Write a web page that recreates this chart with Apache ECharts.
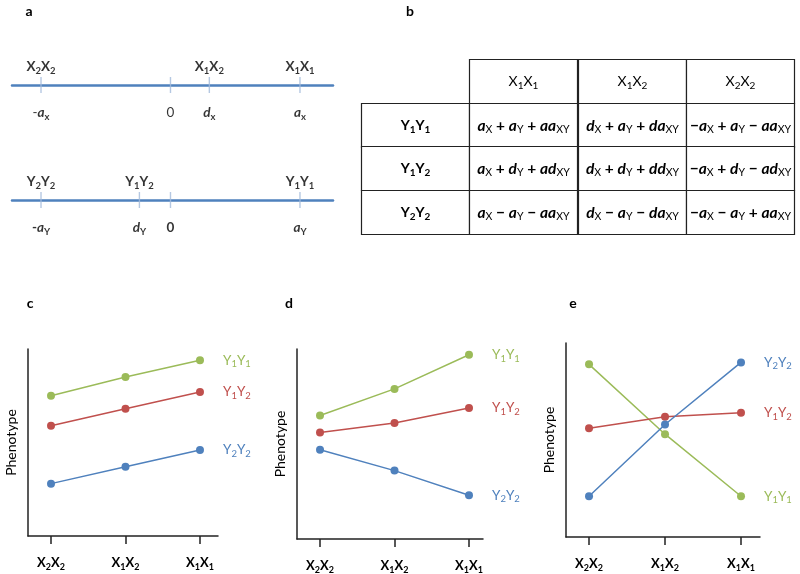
<!DOCTYPE html>
<html><head><meta charset="utf-8">
<script src="https://cdn.jsdelivr.net/npm/echarts@6/dist/echarts.min.js"></script>
<style>html,body{margin:0;padding:0;background:#fff}#chart{width:800px;height:574px}</style>
</head><body><div id="chart"></div>
<script>
// ---------- data ----------
// panel a: positions of genotypes on the effect lines
const lineXPositions = [-1, 0, 0.3, 1];
const lineXTop = ['X_2X_2', '', 'X_1X_2', 'X_1X_1'];
const lineXBottom = ['-a_x', '0', 'd_x', 'a_x'];
const lineYPositions = [-1, -0.24, 0, 1];
const lineYTop = ['Y_2Y_2', 'Y_1Y_2', '', 'Y_1Y_1'];
const lineYBottom = ['-a_Y', 'd_Y', '0', 'a_Y'];
// panel b: table
const tableColHeaders = ['X_1X_1', 'X_1X_2', 'X_2X_2'];
const tableRowHeaders = ['Y_1Y_1', 'Y_1Y_2', 'Y_2Y_2'];
const tableRow1 = ['a_X + a_Y + aa_XY', 'd_X + a_Y + da_XY', '\u2212a_X + a_Y \u2212 aa_XY'];
const tableRow2 = ['a_X + d_Y + ad_XY', 'd_X + d_Y + dd_XY', '\u2212a_X + d_Y \u2212 ad_XY'];
const tableRow3 = ['a_X \u2212 a_Y \u2212 aa_XY', 'd_X \u2212 a_Y \u2212 da_XY', '\u2212a_X \u2212 a_Y + aa_XY'];
// panels c, d, e
const genotypeCategories = ['X_2X_2', 'X_1X_2', 'X_1X_1'];
const seriesNames = ['Y_1Y_1', 'Y_1Y_2', 'Y_2Y_2'];
const cY1Y1 = [7.5, 8.5, 9.4];
const cY1Y2 = [5.9, 6.8, 7.7];
const cY2Y2 = [2.8, 3.7, 4.6];
const dY1Y1 = [6.5, 7.9, 9.7];
const dY1Y2 = [5.6, 6.1, 6.9];
const dY2Y2 = [4.7, 3.6, 2.3];
const eY1Y1 = [8.9, 5.3, 2.1];
const eY1Y2 = [5.6, 6.2, 6.4];
const eY2Y2 = [2.1, 5.8, 9.0];

// ---------- helpers ----------
const FONT = 'Lato';
const INK = '#000';
const COLORS = ['#9bbb59', '#c0504d', '#4f81bd'];

function toRich(str, st) {
  st = Object.assign({plain: 'm', upper: 'm', ital: 'i', sub: 's'}, st || {});
  const re = /([A-Za-z]+)_([0-9]+|[A-Z]+|[a-z]+)/g;
  let out = '', last = 0, m;
  while ((m = re.exec(str))) {
    if (m.index > last) out += '{' + st.plain + '|' + str.slice(last, m.index) + '}';
    const b = m[1];
    out += '{' + (/^[a-z]+$/.test(b) ? st.ital : st.upper) + '|' + b + '}{' + st.sub + '|' + m[2] + '}';
    last = re.lastIndex;
  }
  if (last < str.length) out += '{' + st.plain + '|' + str.slice(last) + '}';
  return out;
}

function richSet(color, size, weight, subSize, key, lh) {
  const c = {};
  c[key] = color;
  return {
    m: Object.assign({fontFamily: FONT, fontSize: size, fontWeight: weight, lineHeight: lh}, c),
    n: Object.assign({fontFamily: FONT, fontSize: size, fontWeight: 'normal', lineHeight: lh}, c),
    i: Object.assign({fontFamily: FONT, fontSize: size, fontWeight: 'bold', fontStyle: 'italic', lineHeight: lh}, c),
    s: Object.assign({fontFamily: FONT, fontSize: subSize, fontWeight: weight, lineHeight: 6, verticalAlign: 'bottom'}, c),
    sn: Object.assign({fontFamily: FONT, fontSize: subSize, fontWeight: 'normal', lineHeight: 6, verticalAlign: 'bottom'}, c)
  };
}
const richA = richSet(INK, 13.5, 'bold', 9.5, 'color', 18);
const richTable = richSet(INK, 15.5, 'bold', 10.5, 'fill', 20);
const richTableHead = richSet(INK, 14, 'bold', 10, 'fill', 19);

// ---------- panel a ----------
function lineGroup(idx, pos, top, bottom, plainBottom) {
  return [
    {
      type: 'scatter', xAxisIndex: idx, yAxisIndex: idx, silent: true, z: 3,
      data: pos.map(v => [v, 0]),
      symbol: 'rect', symbolSize: [1.4, 16],
      itemStyle: {color: '#a3badb'},
      label: {show: true, position: 'top', distance: 1, rich: richA,
        formatter: p => toRich(top[p.dataIndex])}
    },
    {
      type: 'scatter', xAxisIndex: idx, yAxisIndex: idx, silent: true,
      data: pos.map(v => [v, 0]),
      symbol: 'rect', symbolSize: [1.4, 16],
      itemStyle: {color: 'rgba(0,0,0,0)'},
      label: {show: true, position: 'bottom', distance: 11, rich: richA,
        formatter: p => toRich(bottom[p.dataIndex], {plain: plainBottom, sub: 's'})}
    }
  ];
}

// ---------- panel b ----------
const tableRows = [tableRow1, tableRow2, tableRow3];
const cellList = [];
for (let r = 0; r < 4; r++) {
  for (let c = 0; c < 4; c++) {
    if (r === 0 && c === 0) continue;
    let text;
    if (r === 0) text = toRich(tableColHeaders[c - 1], {plain: 'n', upper: 'n', sub: 'sn'});
    else if (c === 0) text = toRich(tableRowHeaders[r - 1], {upper: 'm', sub: 's'});
    else text = toRich(tableRows[r - 1][c - 1], {plain: 'm', ital: 'i', sub: 'sn'});
    cellList.push({c: c, r: r, text: text, head: r === 0 || c === 0});
  }
}

// ---------- panels c, d, e ----------
function panelSeries(idx, arrays) {
  return arrays.map((vals, k) => ({
    type: 'line', xAxisIndex: idx, yAxisIndex: idx, silent: true,
    data: vals.map((v, i) => [i, v]),
    symbol: 'circle', symbolSize: 8, showSymbol: true,
    itemStyle: {color: COLORS[k]},
    lineStyle: {color: COLORS[k], width: 1.5},
    label: {show: true, position: 'right', distance: 19,
      rich: richSet(COLORS[k], 13.5, 'normal', 9.5, 'color', 18),
      formatter: p => p.dataIndex === vals.length - 1 ? toRich(seriesNames[k], {plain: 'm', upper: 'm', sub: 's'}) : ''}
  }));
}

function panelAxes(idx, min, max) {
  const x = {
    gridIndex: idx, type: 'value', min: min, max: max,
    axisLine: {show: true, onZero: false, lineStyle: {color: '#222', width: 1.5}},
    axisTick: {show: true, customValues: [0, 1, 2], length: 8, lineStyle: {color: '#222', width: 1.5}},
    axisLabel: {show: true, customValues: [0, 1, 2], margin: 18, rich: richSet(INK, 13, 'bold', 9, 'color', 18),
      formatter: v => toRich(genotypeCategories[Math.round(v)] || '')},
    splitLine: {show: false}
  };
  const y = {
    gridIndex: idx, type: 'value', min: 0, max: 10,
    name: 'Phenotype', nameLocation: 'middle', nameGap: 10,
    nameTextStyle: {fontFamily: FONT, fontSize: 14, color: INK},
    axisLine: {show: true, onZero: false, lineStyle: {color: '#222', width: 1.5}},
    axisTick: {show: false}, axisLabel: {show: false}, splitLine: {show: false}
  };
  return [x, y];
}
const axC = panelAxes(3, -0.309, 2.242);
const axD = panelAxes(4, -0.309, 2.188);
const axE = panelAxes(5, -0.303, 2.25);

const chart = echarts.init(document.getElementById('chart'));
const option = {
  animation: false,
  backgroundColor: '#fff',
  grid: [
    {left: 12, width: 321, top: 77, height: 16, outerBoundsMode: 'none'},
    {left: 12, width: 321, top: 192, height: 16, outerBoundsMode: 'none'},
    {left: 361, width: 433, top: 59, height: 174, outerBoundsMode: 'none'},
    {left: 28, width: 190, top: 349, height: 187, outerBoundsMode: 'none'},
    {left: 297, width: 186, top: 349, height: 190, outerBoundsMode: 'none'},
    {left: 566, width: 194, top: 343, height: 194, outerBoundsMode: 'none'}
  ],
  xAxis: [
    {gridIndex: 0, type: 'value', min: -1.224, max: 1.255,
      axisLine: {show: true, onZero: true, lineStyle: {color: '#4f81bd', width: 2.5}},
      axisTick: {show: false}, axisLabel: {show: false}, splitLine: {show: false}},
    {gridIndex: 1, type: 'value', min: -1.224, max: 1.255,
      axisLine: {show: true, onZero: true, lineStyle: {color: '#4f81bd', width: 2.5}},
      axisTick: {show: false}, axisLabel: {show: false}, splitLine: {show: false}},
    {gridIndex: 2, type: 'value', min: 0, max: 4, show: false},
    axC[0], axD[0], axE[0]
  ],
  yAxis: [
    {gridIndex: 0, type: 'value', min: -1, max: 1, show: false},
    {gridIndex: 1, type: 'value', min: -1, max: 1, show: false},
    {gridIndex: 2, type: 'value', min: 0, max: 4, inverse: true, show: false},
    axC[1], axD[1], axE[1]
  ],
  graphic: [
    ['a', 29, 11], ['b', 410, 11], ['c', 30, 303], ['d', 289, 303], ['e', 573, 303]
  ].map(t => ({type: 'text', x: t[1], y: t[2], silent: true,
    style: {text: t[0], align: 'center', verticalAlign: 'middle', font: 'bold 14px ' + FONT, fill: INK}})),
  series: [].concat(
    lineGroup(0, lineXPositions, lineXTop, lineXBottom, 'n'),
    lineGroup(1, lineYPositions, lineYTop, lineYBottom, 'm'),
    [{
      type: 'custom', xAxisIndex: 2, yAxisIndex: 2, silent: true,
      data: cellList.map(o => [o.c, o.r]),
      renderItem: function (params, api) {
        const o = cellList[params.dataIndex];
        const p0 = api.coord([o.c, o.r]);
        const p1 = api.coord([o.c + 1, o.r + 1]);
        const x0 = Math.round(Math.min(p0[0], p1[0])) + 0.5;
        const y0 = Math.round(Math.min(p0[1], p1[1])) + 0.5;
        const w = Math.round(Math.abs(p1[0] - p0[0]));
        const h = Math.round(Math.abs(p1[1] - p0[1]));
        return {
          type: 'group',
          children: [
            {type: 'rect', shape: {x: x0, y: y0, width: w, height: h},
              style: {fill: '#fff', stroke: '#222', lineWidth: 1.2}},
            {type: 'text', x: x0 + w / 2, y: y0 + h / 2,
              style: {text: o.text, rich: o.head ? richTableHead : richTable, align: 'center', verticalAlign: 'middle',
                fill: INK, font: '14px ' + FONT}}
          ]
        };
      }
    }],
    panelSeries(3, [cY1Y1, cY1Y2, cY2Y2]),
    panelSeries(4, [dY1Y1, dY1Y2, dY2Y2]),
    panelSeries(5, [eY1Y1, eY1Y2, eY2Y2])
  )
};
chart.setOption(option);
</script>
</body></html>
